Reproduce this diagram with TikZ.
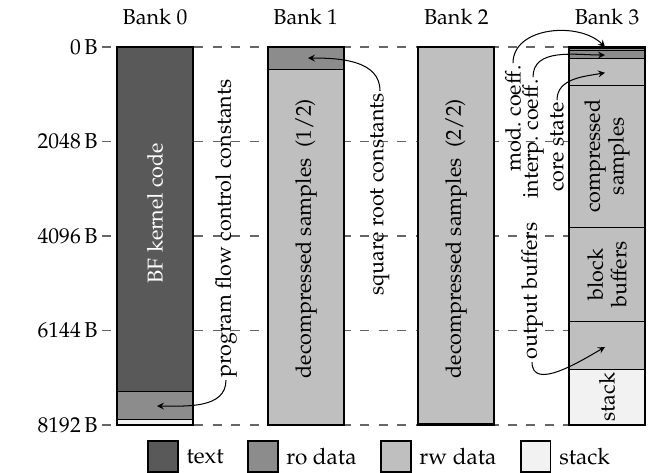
\documentclass[tikz,border=0pt]{standalone}
\usepackage[T1]{fontenc}
\usepackage{mathpazo}
\usetikzlibrary{arrows}
\usetikzlibrary{positioning}
\tikzstyle{segment}=[draw=black,line width=0.4pt]
\tikzstyle{textseg}=[segment,fill=black!65]
\tikzstyle{roseg}=[segment,fill=black!45]
\tikzstyle{rwseg}=[segment,fill=black!25]
\tikzstyle{stackseg}=[segment,fill=black!5]
\tikzstyle{bankframe}=[draw=black,line width=1pt]
\tikzstyle{gridline}=[draw=black!60,line width=0.6pt,dash pattern=on 4.5pt off 4.5pt]
\tikzstyle{addrlabel}=[anchor=east,inner sep=2pt]
\tikzstyle{seglabel}=[rotate=90,align=center,font=\fontsize{10.5}{11.5}\selectfont]
\tikzstyle{note}=[rotate=90,inner sep=1pt]
\tikzstyle{pointer}=[draw,->,>=stealth,line width=0.5pt]
\tikzstyle{legendbox}=[draw=black,line width=0.7pt,minimum width=14.6pt,minimum height=15.1pt,inner sep=0pt]
\tikzstyle{legendlabel}=[font=\fontsize{11}{13}\selectfont]

\begin{document}
\begin{tikzpicture}[x=0.488pt,y=-0.02252pt,every node/.style={font=\fontsize{10.5}{12.6}\selectfont}]
    \useasboundingbox (0,-1019) rectangle (657,9210);

    % address lines
    \foreach \addr in {0,2048,4096,6144,8192} {
        \node[addrlabel] (a\addr) at (102,\addr) {\addr\,B};
        \path[gridline] (a\addr.east) -- (645,\addr);
    }

    % segments: bank/from/to/kind
    \foreach \b/\from/\to/\kind in {0/0/7472/textseg, 0/7472/8064/roseg, 0/8064/8192/stackseg,
            1/0/480/roseg, 1/480/8192/rwseg, 2/0/8160/rwseg, 2/8160/8192/stackseg,
            3/0/32/roseg, 3/32/64/roseg, 3/64/256/roseg, 3/256/832/rwseg, 3/832/3904/rwseg,
            3/3904/5952/rwseg, 3/5952/6976/rwseg, 3/6976/8192/stackseg}
        \path[\kind] ({117+150.67*\b},\from) rectangle ({193+150.67*\b},\to);

    \foreach \b in {0,...,3} {
        \path[bankframe] ({117+150.67*\b},0) rectangle ({193+150.67*\b},8192);
        \node (bank\b) at ({155+150.67*\b},-650) {Bank \b};
    }

    \node[seglabel,text=white] (kernel) at (155,3600) {BF kernel code};
    \foreach \pos/\name/\label in {{(306,4150)/dec1/{decompressed samples~~(1/2)}}, {(456,4150)/dec2/{decompressed samples~~(2/2)}},
            {(607,2368)/comp/compressed\\samples}, {(607,4928)/blk/block\\buffers}, {(607,7584)/stk/stack}}
        \node[seglabel] (\name) at \pos {\label};

    % annotations
    \foreach \pos/\name/\side/\label in {{(226,7216)/pfc/west/program flow control constants}, {(380,950)/src/east/square root constants},
            {(532,6826)/ob/west/output buffers}, {(513,347)/mc/east/mod.\ coeff.}, {(533,650)/ic/east/interp.\ coeff.},
            {(557,1149)/cs/east/core state}}
        \node[note,anchor=\side] (\name) at \pos {\label};

    \foreach \x/\y/\name in {157/7780/pfctip, 308/238/srctip, 605/6500/obtip, 605/0/mctip, 605/173/ictip, 605/557/cstip}
        \coordinate (\name) at (\x,\y);

    \foreach \source/\dest/\outang/\inang in {pfc.west/pfctip/-90/0, src.east/srctip/90/0, ob.west/obtip/-90/210,
            mc.east/mctip/90/135, ic.east/ictip/90/180, cs.east/cstip/90/190}
        \path[pointer] (\source) to[out=\outang,in=\inang] (\dest);

    % legend
    \node[textseg,legendbox] (key0) at (163,8874) {};
    \node[legendlabel,right=0.3pt of key0] (keylabel0) {text};
    \foreach \i/\prev/\kind/\label in {1/0/roseg/ro data, 2/1/rwseg/rw data, 3/2/stackseg/stack} {
        \node[\kind,legendbox,right=8pt of keylabel\prev] (key\i) {};
        \node[legendlabel,right=0.3pt of key\i] (keylabel\i) {\label};
    }
\end{tikzpicture}
\end{document}
